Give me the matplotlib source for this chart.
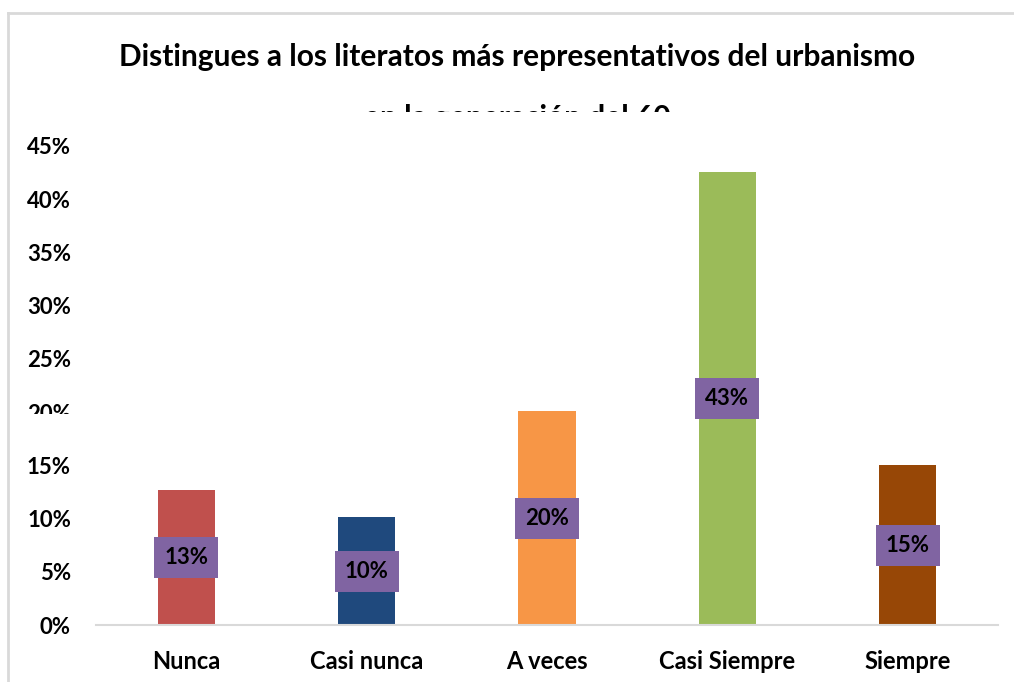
import matplotlib.pyplot as plt
from matplotlib.patches import Rectangle
from matplotlib.lines import Line2D
import numpy as np

categories = ['Nunca', 'Casi nunca', 'A veces', 'Casi Siempre', 'Siempre']
values = [0.127, 0.101, 0.201, 0.426, 0.150]
colors = ['#C0504D', '#1F497D', '#F79646', '#9BBB59', '#974706']
yticks = [0, 0.05, 0.10, 0.15, 0.20, 0.25, 0.30, 0.35, 0.40, 0.45]

plt.rcParams['font.family'] = ['Lato', 'DejaVu Sans']
plt.rcParams['font.weight'] = 'bold'

W, H = 1014, 682
fig = plt.figure(figsize=(W / 100, H / 100), dpi=100)
ax = fig.add_axes([96 / W, 1 - 625 / H, (998 - 96) / W, (625 - 146) / H])

x = np.arange(len(categories))
ax.bar(x, values, width=0.316, color=colors, zorder=2)

for xi, v in zip(x, values):
    ax.text(xi, v / 2, f'{v:.0%}', ha='center', va='center', fontsize=16,
            fontweight='bold', color='black', zorder=3,
            bbox=dict(boxstyle='square,pad=0.45', fc='#8064A2', ec='none'))

ax.set_xlim(-0.5, len(categories) - 0.5)
ax.set_ylim(0, 0.45)
ax.set_yticks(yticks)
ax.set_yticklabels([f'{t:.0%}' for t in yticks])
ax.set_xticks(x)
ax.set_xticklabels(categories)
ax.tick_params(axis='y', length=0, pad=18, labelsize=16)
ax.tick_params(axis='x', length=0, pad=18, labelsize=17)
for s in ['top', 'right', 'left']:
    ax.spines[s].set_visible(False)
ax.spines['bottom'].set_color('#D9D9D9')
ax.spines['bottom'].set_linewidth(1.5)

fig.text(517 / W, 1 - 57 / H, 'Distingues a los literatos más representativos del urbanismo',
         ha='center', va='center', fontsize=21.5, fontweight='bold')
fig.text(517 / W, 1 - 118 / H, 'en la generación del 60',
         ha='center', va='center', fontsize=21.5, fontweight='bold')

# the original chart hides part of the second title line and the 20% label
fig.patches.append(Rectangle((0.05, 1 - 138 / H), 0.9, 26 / H, transform=fig.transFigure,
                             fc='white', ec='none', zorder=5))
fig.patches.append(Rectangle((15 / W, 1 - 432 / H), 70 / W, 18 / H, transform=fig.transFigure,
                             fc='white', ec='none', zorder=5))

# outer chart border
fig.lines.append(Line2D([8 / W, 1], [1 - 13 / H, 1 - 13 / H], transform=fig.transFigure,
                        color='#D9D9D9', lw=2))
fig.lines.append(Line2D([8 / W, 8 / W], [0, 1 - 13 / H], transform=fig.transFigure,
                        color='#D9D9D9', lw=2))

fig.savefig('out.png', dpi=100)
